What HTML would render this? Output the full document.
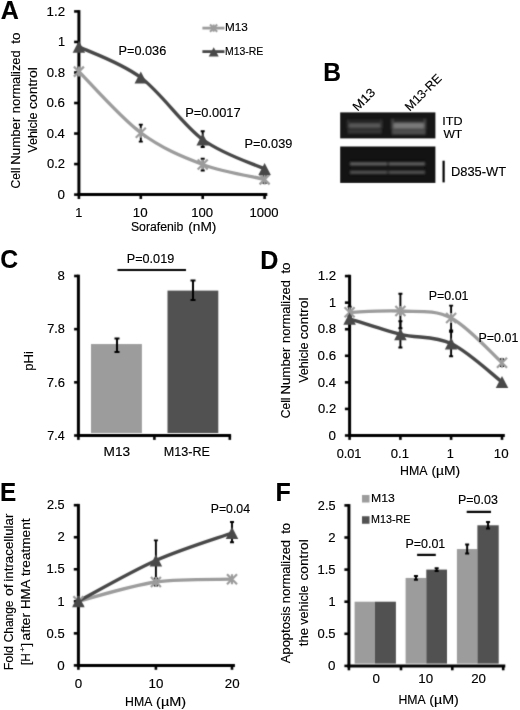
<!DOCTYPE html>
<html><head><meta charset="utf-8"><style>
html,body{margin:0;padding:0;background:#fff;}
svg{display:block;font-family:"Liberation Sans", sans-serif;filter:grayscale(1);}
text{stroke:#000;stroke-width:0.15px;}
</style></head><body>
<svg width="520" height="710" viewBox="0 0 520 710">
<defs><filter id="soft" x="0" y="0" width="520" height="710" filterUnits="userSpaceOnUse" color-interpolation-filters="sRGB"><feConvolveMatrix order="3" kernelMatrix="0.0192 0.1001 0.0192 0.1001 0.5228 0.1001 0.0192 0.1001 0.0192" edgeMode="duplicate"/></filter></defs>
<g filter="url(#soft)">
<rect width="520" height="710" fill="#fff"/>
<line x1="78.90" y1="10.12" x2="78.90" y2="196.10" stroke="#000" stroke-width="3.0" stroke-linecap="butt"/>
<line x1="74.10" y1="194.60" x2="78.90" y2="194.60" stroke="#000" stroke-width="2.6" stroke-linecap="butt"/>
<line x1="74.10" y1="164.07" x2="78.90" y2="164.07" stroke="#000" stroke-width="2.6" stroke-linecap="butt"/>
<line x1="74.10" y1="133.54" x2="78.90" y2="133.54" stroke="#000" stroke-width="2.6" stroke-linecap="butt"/>
<line x1="74.10" y1="103.01" x2="78.90" y2="103.01" stroke="#000" stroke-width="2.6" stroke-linecap="butt"/>
<line x1="74.10" y1="72.48" x2="78.90" y2="72.48" stroke="#000" stroke-width="2.6" stroke-linecap="butt"/>
<line x1="74.10" y1="41.95" x2="78.90" y2="41.95" stroke="#000" stroke-width="2.6" stroke-linecap="butt"/>
<line x1="74.10" y1="11.42" x2="78.90" y2="11.42" stroke="#000" stroke-width="2.6" stroke-linecap="butt"/>
<line x1="77.40" y1="194.60" x2="267.30" y2="194.60" stroke="#000" stroke-width="3.0" stroke-linecap="butt"/>
<line x1="78.90" y1="194.60" x2="78.90" y2="199.00" stroke="#000" stroke-width="2.6" stroke-linecap="butt"/>
<line x1="140.80" y1="194.60" x2="140.80" y2="199.00" stroke="#000" stroke-width="2.6" stroke-linecap="butt"/>
<line x1="202.70" y1="194.60" x2="202.70" y2="199.00" stroke="#000" stroke-width="2.6" stroke-linecap="butt"/>
<line x1="264.60" y1="194.60" x2="264.60" y2="199.00" stroke="#000" stroke-width="2.6" stroke-linecap="butt"/>
<line x1="202.40" y1="28.10" x2="224.50" y2="28.10" stroke="#9c9c9c" stroke-width="2.8" stroke-linecap="butt"/>
<path d="M210.00,24.50 L217.20,31.70 M217.20,24.50 L210.00,31.70 M213.60,24.50 L213.60,31.70" stroke="#9c9c9c" stroke-width="2.0" fill="none"/>
<line x1="202.40" y1="51.60" x2="224.50" y2="51.60" stroke="#484848" stroke-width="2.8" stroke-linecap="butt"/>
<path d="M213.70,47.30 L218.70,56.50 L208.70,56.50 Z" fill="#484848"/>
<path d="M78.90,71.60 C89.22,81.80 120.17,117.32 140.80,132.80 C161.43,148.28 182.07,156.73 202.70,164.50 C223.33,172.27 254.28,176.92 264.60,179.40" stroke="#9c9c9c" stroke-width="3.3" fill="none"/>
<path d="M78.90,46.70 C89.22,51.83 120.17,62.03 140.80,77.50 C161.43,92.97 182.07,124.25 202.70,139.50 C223.33,154.75 254.28,164.08 264.60,169.00" stroke="#484848" stroke-width="3.4" fill="none"/>
<path d="M140.80,124.60 L140.80,141.60 M138.80,124.60 L142.80,124.60 M138.80,141.60 L142.80,141.60" stroke="#000" stroke-width="1.9" fill="none"/>
<path d="M202.70,158.75 L202.70,170.50 M200.70,158.75 L204.70,158.75 M200.70,170.50 L204.70,170.50" stroke="#000" stroke-width="1.9" fill="none"/>
<path d="M264.60,176.00 L264.60,183.00 M262.60,176.00 L266.60,176.00 M262.60,183.00 L266.60,183.00" stroke="#000" stroke-width="1.9" fill="none"/>
<path d="M202.70,131.25 L202.70,147.00 M200.70,131.25 L204.70,131.25 M200.70,147.00 L204.70,147.00" stroke="#000" stroke-width="1.9" fill="none"/>
<path d="M73.90,66.60 L83.90,76.60 M83.90,66.60 L73.90,76.60 M78.90,66.60 L78.90,76.60" stroke="#9c9c9c" stroke-width="2.2" fill="none"/>
<path d="M135.80,127.80 L145.80,137.80 M145.80,127.80 L135.80,137.80 M140.80,127.80 L140.80,137.80" stroke="#9c9c9c" stroke-width="2.2" fill="none"/>
<path d="M197.70,159.50 L207.70,169.50 M207.70,159.50 L197.70,169.50 M202.70,159.50 L202.70,169.50" stroke="#9c9c9c" stroke-width="2.2" fill="none"/>
<path d="M259.60,174.40 L269.60,184.40 M269.60,174.40 L259.60,184.40 M264.60,174.40 L264.60,184.40" stroke="#9c9c9c" stroke-width="2.2" fill="none"/>
<path d="M78.90,40.70 L85.15,52.70 L72.65,52.70 Z" fill="#484848"/>
<path d="M140.80,71.50 L147.05,83.50 L134.55,83.50 Z" fill="#484848"/>
<path d="M202.70,133.50 L208.95,145.50 L196.45,145.50 Z" fill="#484848"/>
<path d="M264.60,163.00 L270.85,175.00 L258.35,175.00 Z" fill="#484848"/>
<defs><filter id="bl" x="-20%" y="-60%" width="140%" height="220%"><feGaussianBlur stdDeviation="1.2"/></filter><filter id="bl2" x="-20%" y="-200%" width="140%" height="500%"><feGaussianBlur stdDeviation="0.8"/></filter><clipPath id="g1"><rect x="340.2" y="112.4" width="95.2" height="26"/></clipPath><clipPath id="g2"><rect x="340.2" y="146.5" width="95.2" height="36.4"/></clipPath></defs>
<rect x="340.2" y="112.4" width="95.2" height="26" fill="#161616"/>
<rect x="340.2" y="146.5" width="95.2" height="36.4" fill="#131313"/>
<g clip-path="url(#g1)"><g filter="url(#bl)"><rect x="347.5" y="119" width="34.5" height="15" fill="#212121"/><rect x="348" y="123.4" width="33.5" height="4.4" fill="#5a5a5a"/><rect x="348" y="129.6" width="33.5" height="3.6" fill="#383838"/><rect x="347" y="120" width="2.2" height="8.5" fill="#363636"/><rect x="380.2" y="120" width="2.2" height="8.5" fill="#363636"/><rect x="391.5" y="118.5" width="34.5" height="16.5" fill="#262626"/><rect x="392" y="123" width="33.5" height="5.7" fill="#7a7a7a"/><rect x="392" y="129.7" width="33.5" height="4.8" fill="#505050"/><rect x="391.2" y="119" width="2.4" height="10.5" fill="#4a4a4a"/><rect x="423.8" y="119" width="2.4" height="10.5" fill="#4a4a4a"/></g></g>
<g clip-path="url(#g2)"><g filter="url(#bl2)"><rect x="350" y="160.5" width="75" height="6" fill="#1c1c1c"/><rect x="350" y="169.2" width="75" height="6" fill="#1c1c1c"/><rect x="350" y="163.1" width="37" height="1.7" fill="#777"/><rect x="389" y="163.1" width="36" height="1.7" fill="#777"/><rect x="350" y="171.5" width="37" height="1.7" fill="#666"/><rect x="389" y="171.5" width="36" height="1.7" fill="#666"/></g></g>
<line x1="443.60" y1="160.70" x2="443.60" y2="182.40" stroke="#000" stroke-width="2.2" stroke-linecap="butt"/>
<line x1="78.40" y1="274.69" x2="78.40" y2="437.00" stroke="#000" stroke-width="3.0" stroke-linecap="butt"/>
<line x1="74.10" y1="435.50" x2="78.40" y2="435.50" stroke="#000" stroke-width="2.6" stroke-linecap="butt"/>
<line x1="74.10" y1="382.33" x2="78.40" y2="382.33" stroke="#000" stroke-width="2.6" stroke-linecap="butt"/>
<line x1="74.10" y1="329.16" x2="78.40" y2="329.16" stroke="#000" stroke-width="2.6" stroke-linecap="butt"/>
<line x1="74.10" y1="275.99" x2="78.40" y2="275.99" stroke="#000" stroke-width="2.6" stroke-linecap="butt"/>
<line x1="76.90" y1="435.50" x2="231.10" y2="435.50" stroke="#000" stroke-width="3.0" stroke-linecap="butt"/>
<line x1="78.40" y1="435.50" x2="78.40" y2="439.90" stroke="#000" stroke-width="2.6" stroke-linecap="butt"/>
<line x1="154.40" y1="435.50" x2="154.40" y2="439.90" stroke="#000" stroke-width="2.6" stroke-linecap="butt"/>
<line x1="229.80" y1="435.50" x2="229.80" y2="439.90" stroke="#000" stroke-width="2.6" stroke-linecap="butt"/>
<rect x="91" y="344.05" width="50.9" height="88.95" fill="#9c9c9c"/>
<rect x="167.5" y="290.61" width="50.8" height="142.39" fill="#515151"/>
<path d="M117.00,338.60 L117.00,352.00 M114.50,338.60 L119.50,338.60 M114.50,352.00 L119.50,352.00" stroke="#000" stroke-width="2" fill="none"/>
<path d="M193.00,280.50 L193.00,300.00 M190.50,280.50 L195.50,280.50 M190.50,300.00 L195.50,300.00" stroke="#000" stroke-width="2" fill="none"/>
<line x1="117.50" y1="270.00" x2="186.00" y2="270.00" stroke="#000" stroke-width="2.2" stroke-linecap="butt"/>
<line x1="349.60" y1="274.78" x2="349.60" y2="437.00" stroke="#000" stroke-width="3.0" stroke-linecap="butt"/>
<line x1="344.90" y1="435.50" x2="349.60" y2="435.50" stroke="#000" stroke-width="2.6" stroke-linecap="butt"/>
<line x1="344.90" y1="408.93" x2="349.60" y2="408.93" stroke="#000" stroke-width="2.6" stroke-linecap="butt"/>
<line x1="344.90" y1="382.36" x2="349.60" y2="382.36" stroke="#000" stroke-width="2.6" stroke-linecap="butt"/>
<line x1="344.90" y1="355.79" x2="349.60" y2="355.79" stroke="#000" stroke-width="2.6" stroke-linecap="butt"/>
<line x1="344.90" y1="329.22" x2="349.60" y2="329.22" stroke="#000" stroke-width="2.6" stroke-linecap="butt"/>
<line x1="344.90" y1="302.65" x2="349.60" y2="302.65" stroke="#000" stroke-width="2.6" stroke-linecap="butt"/>
<line x1="344.90" y1="276.08" x2="349.60" y2="276.08" stroke="#000" stroke-width="2.6" stroke-linecap="butt"/>
<line x1="348.10" y1="435.50" x2="504.80" y2="435.50" stroke="#000" stroke-width="3.0" stroke-linecap="butt"/>
<line x1="349.60" y1="435.50" x2="349.60" y2="439.90" stroke="#000" stroke-width="2.6" stroke-linecap="butt"/>
<line x1="400.40" y1="435.50" x2="400.40" y2="439.90" stroke="#000" stroke-width="2.6" stroke-linecap="butt"/>
<line x1="451.10" y1="435.50" x2="451.10" y2="439.90" stroke="#000" stroke-width="2.6" stroke-linecap="butt"/>
<line x1="502.00" y1="435.50" x2="502.00" y2="439.90" stroke="#000" stroke-width="2.6" stroke-linecap="butt"/>
<path d="M349.60,312.30 C358.07,312.08 383.48,310.05 400.40,311.00 C417.32,311.95 434.17,309.38 451.10,318.00 C468.03,326.62 493.52,355.25 502.00,362.70" stroke="#9c9c9c" stroke-width="3.3" fill="none"/>
<path d="M349.60,318.80 C358.07,321.38 383.48,330.18 400.40,334.30 C417.32,338.42 434.17,335.55 451.10,343.50 C468.03,351.45 493.52,375.58 502.00,382.00" stroke="#484848" stroke-width="3.4" fill="none"/>
<path d="M400.40,293.70 L400.40,328.30 M398.40,293.70 L402.40,293.70 M398.40,328.30 L402.40,328.30" stroke="#000" stroke-width="1.9" fill="none"/>
<path d="M451.10,305.60 L451.10,330.40 M449.10,305.60 L453.10,305.60 M449.10,330.40 L453.10,330.40" stroke="#000" stroke-width="1.9" fill="none"/>
<path d="M349.60,306.70 L349.60,316.00 M347.60,306.70 L351.60,306.70 M347.60,316.00 L351.60,316.00" stroke="#000" stroke-width="1.9" fill="none"/>
<path d="M502.00,359.20 L502.00,366.00 M500.00,359.20 L504.00,359.20 M500.00,366.00 L504.00,366.00" stroke="#000" stroke-width="1.9" fill="none"/>
<path d="M400.40,321.30 L400.40,347.50 M398.40,321.30 L402.40,321.30 M398.40,347.50 L402.40,347.50" stroke="#000" stroke-width="1.9" fill="none"/>
<path d="M451.10,331.70 L451.10,356.20 M449.10,331.70 L453.10,331.70 M449.10,356.20 L453.10,356.20" stroke="#000" stroke-width="1.9" fill="none"/>
<path d="M344.60,307.30 L354.60,317.30 M354.60,307.30 L344.60,317.30 M349.60,307.30 L349.60,317.30" stroke="#9c9c9c" stroke-width="2.2" fill="none"/>
<path d="M395.40,306.00 L405.40,316.00 M405.40,306.00 L395.40,316.00 M400.40,306.00 L400.40,316.00" stroke="#9c9c9c" stroke-width="2.2" fill="none"/>
<path d="M446.10,313.00 L456.10,323.00 M456.10,313.00 L446.10,323.00 M451.10,313.00 L451.10,323.00" stroke="#9c9c9c" stroke-width="2.2" fill="none"/>
<path d="M497.00,357.70 L507.00,367.70 M507.00,357.70 L497.00,367.70 M502.00,357.70 L502.00,367.70" stroke="#9c9c9c" stroke-width="2.2" fill="none"/>
<path d="M349.60,312.80 L355.85,324.80 L343.35,324.80 Z" fill="#484848"/>
<path d="M400.40,328.30 L406.65,340.30 L394.15,340.30 Z" fill="#484848"/>
<path d="M451.10,337.50 L457.35,349.50 L444.85,349.50 Z" fill="#484848"/>
<path d="M502.00,376.00 L508.25,388.00 L495.75,388.00 Z" fill="#484848"/>
<line x1="78.40" y1="503.90" x2="78.40" y2="666.90" stroke="#000" stroke-width="3.0" stroke-linecap="butt"/>
<line x1="73.80" y1="665.40" x2="78.40" y2="665.40" stroke="#000" stroke-width="2.6" stroke-linecap="butt"/>
<line x1="73.80" y1="633.36" x2="78.40" y2="633.36" stroke="#000" stroke-width="2.6" stroke-linecap="butt"/>
<line x1="73.80" y1="601.32" x2="78.40" y2="601.32" stroke="#000" stroke-width="2.6" stroke-linecap="butt"/>
<line x1="73.80" y1="569.28" x2="78.40" y2="569.28" stroke="#000" stroke-width="2.6" stroke-linecap="butt"/>
<line x1="73.80" y1="537.24" x2="78.40" y2="537.24" stroke="#000" stroke-width="2.6" stroke-linecap="butt"/>
<line x1="73.80" y1="505.20" x2="78.40" y2="505.20" stroke="#000" stroke-width="2.6" stroke-linecap="butt"/>
<line x1="76.90" y1="665.40" x2="234.90" y2="665.40" stroke="#000" stroke-width="3.0" stroke-linecap="butt"/>
<line x1="78.40" y1="665.40" x2="78.40" y2="669.80" stroke="#000" stroke-width="2.6" stroke-linecap="butt"/>
<line x1="155.90" y1="665.40" x2="155.90" y2="669.80" stroke="#000" stroke-width="2.6" stroke-linecap="butt"/>
<line x1="232.00" y1="665.40" x2="232.00" y2="669.80" stroke="#000" stroke-width="2.6" stroke-linecap="butt"/>
<path d="M78.40,601.20 C91.32,598.00 130.30,585.67 155.90,582.00 C181.50,578.33 219.32,579.67 232.00,579.20" stroke="#9c9c9c" stroke-width="3.3" fill="none"/>
<path d="M78.40,601.20 C91.32,594.42 130.30,571.87 155.90,560.50 C181.50,549.13 219.32,537.58 232.00,533.00" stroke="#484848" stroke-width="3.4" fill="none"/>
<path d="M155.90,578.50 L155.90,585.50 M153.90,578.50 L157.90,578.50 M153.90,585.50 L157.90,585.50" stroke="#000" stroke-width="1.9" fill="none"/>
<path d="M155.90,540.40 L155.90,580.50 M153.90,540.40 L157.90,540.40 M153.90,580.50 L157.90,580.50" stroke="#000" stroke-width="1.9" fill="none"/>
<path d="M232.00,522.00 L232.00,542.20 M230.00,522.00 L234.00,522.00 M230.00,542.20 L234.00,542.20" stroke="#000" stroke-width="1.9" fill="none"/>
<path d="M73.40,596.20 L83.40,606.20 M83.40,596.20 L73.40,606.20 M78.40,596.20 L78.40,606.20" stroke="#9c9c9c" stroke-width="2.2" fill="none"/>
<path d="M150.90,577.00 L160.90,587.00 M160.90,577.00 L150.90,587.00 M155.90,577.00 L155.90,587.00" stroke="#9c9c9c" stroke-width="2.2" fill="none"/>
<path d="M227.00,574.20 L237.00,584.20 M237.00,574.20 L227.00,584.20 M232.00,574.20 L232.00,584.20" stroke="#9c9c9c" stroke-width="2.2" fill="none"/>
<path d="M78.40,595.20 L84.65,607.20 L72.15,607.20 Z" fill="#484848"/>
<path d="M155.90,554.50 L162.15,566.50 L149.65,566.50 Z" fill="#484848"/>
<path d="M232.00,527.00 L238.25,539.00 L225.75,539.00 Z" fill="#484848"/>
<line x1="348.90" y1="504.10" x2="348.90" y2="667.40" stroke="#000" stroke-width="3.0" stroke-linecap="butt"/>
<line x1="344.40" y1="665.90" x2="348.90" y2="665.90" stroke="#000" stroke-width="2.6" stroke-linecap="butt"/>
<line x1="344.40" y1="633.80" x2="348.90" y2="633.80" stroke="#000" stroke-width="2.6" stroke-linecap="butt"/>
<line x1="344.40" y1="601.70" x2="348.90" y2="601.70" stroke="#000" stroke-width="2.6" stroke-linecap="butt"/>
<line x1="344.40" y1="569.60" x2="348.90" y2="569.60" stroke="#000" stroke-width="2.6" stroke-linecap="butt"/>
<line x1="344.40" y1="537.50" x2="348.90" y2="537.50" stroke="#000" stroke-width="2.6" stroke-linecap="butt"/>
<line x1="344.40" y1="505.40" x2="348.90" y2="505.40" stroke="#000" stroke-width="2.6" stroke-linecap="butt"/>
<line x1="347.40" y1="665.90" x2="505.30" y2="665.90" stroke="#000" stroke-width="3.0" stroke-linecap="butt"/>
<line x1="348.90" y1="665.90" x2="348.90" y2="670.30" stroke="#000" stroke-width="2.6" stroke-linecap="butt"/>
<line x1="401.00" y1="665.90" x2="401.00" y2="670.30" stroke="#000" stroke-width="2.6" stroke-linecap="butt"/>
<line x1="452.30" y1="665.90" x2="452.30" y2="670.30" stroke="#000" stroke-width="2.6" stroke-linecap="butt"/>
<line x1="503.20" y1="665.90" x2="503.20" y2="670.30" stroke="#000" stroke-width="2.6" stroke-linecap="butt"/>
<rect x="354.6" y="601.70" width="20.40" height="61.90" fill="#9c9c9c"/>
<rect x="375.0" y="601.70" width="20.90" height="61.90" fill="#515151"/>
<rect x="405.6" y="577.95" width="20.70" height="85.65" fill="#9c9c9c"/>
<rect x="426.3" y="569.60" width="20.70" height="94.00" fill="#515151"/>
<path d="M415.95,576.02 L415.95,579.87 M413.95,576.02 L417.95,576.02 M413.95,579.87 L417.95,579.87" stroke="#000" stroke-width="2" fill="none"/>
<path d="M436.65,568.32 L436.65,570.88 M434.65,568.32 L438.65,568.32 M434.65,570.88 L438.65,570.88" stroke="#000" stroke-width="2" fill="none"/>
<rect x="456.9" y="549.06" width="20.50" height="114.54" fill="#9c9c9c"/>
<rect x="477.4" y="525.30" width="21.30" height="138.30" fill="#515151"/>
<path d="M467.15,544.56 L467.15,553.55 M465.15,544.56 L469.15,544.56 M465.15,553.55 L469.15,553.55" stroke="#000" stroke-width="2" fill="none"/>
<path d="M488.05,522.09 L488.05,528.51 M486.05,522.09 L490.05,522.09 M486.05,528.51 L490.05,528.51" stroke="#000" stroke-width="2" fill="none"/>
<line x1="417.10" y1="554.90" x2="435.80" y2="554.90" stroke="#000" stroke-width="2.2" stroke-linecap="butt"/>
<line x1="466.70" y1="511.90" x2="491.00" y2="511.90" stroke="#000" stroke-width="2.2" stroke-linecap="butt"/>
<rect x="362" y="495" width="7.5" height="7.5" fill="#9c9c9c"/>
<rect x="362" y="516.25" width="7.5" height="7.5" fill="#515151"/>
</g>
<g class="t">
<text x="0.78" y="19.00" font-size="25.6" font-weight="bold" textLength="18.08" lengthAdjust="spacingAndGlyphs" fill="#000">A</text>
<text x="323.25" y="81.10" font-size="25.6" font-weight="bold" textLength="17.76" lengthAdjust="spacingAndGlyphs" fill="#000">B</text>
<text x="0.14" y="268.40" font-size="25.6" font-weight="bold" textLength="17.84" lengthAdjust="spacingAndGlyphs" fill="#000">C</text>
<text x="260.22" y="268.80" font-size="25.6" font-weight="bold" textLength="18.13" lengthAdjust="spacingAndGlyphs" fill="#000">D</text>
<text x="0.08" y="500.50" font-size="25.6" font-weight="bold" textLength="16.17" lengthAdjust="spacingAndGlyphs" fill="#000">E</text>
<text x="275.53" y="500.50" font-size="25.6" font-weight="bold" textLength="15.29" lengthAdjust="spacingAndGlyphs" fill="#000">F</text>
<text x="57.48" y="198.80" font-size="12.0" textLength="7.45" lengthAdjust="spacingAndGlyphs" fill="#000">0</text>
<text x="46.99" y="168.27" font-size="12.0" textLength="18.06" lengthAdjust="spacingAndGlyphs" fill="#000">0.2</text>
<text x="46.69" y="137.74" font-size="12.0" textLength="18.09" lengthAdjust="spacingAndGlyphs" fill="#000">0.4</text>
<text x="46.48" y="107.21" font-size="12.0" textLength="18.50" lengthAdjust="spacingAndGlyphs" fill="#000">0.6</text>
<text x="46.69" y="76.68" font-size="12.0" textLength="18.29" lengthAdjust="spacingAndGlyphs" fill="#000">0.8</text>
<text x="57.93" y="46.15" font-size="12.0" textLength="7.09" lengthAdjust="spacingAndGlyphs" fill="#000">1</text>
<text x="46.59" y="15.62" font-size="12.0" textLength="18.48" lengthAdjust="spacingAndGlyphs" fill="#000">1.2</text>
<text x="75.18" y="217.30" font-size="12.0" textLength="7.09" lengthAdjust="spacingAndGlyphs" fill="#000">1</text>
<text x="132.83" y="217.30" font-size="12.0" textLength="14.84" lengthAdjust="spacingAndGlyphs" fill="#000">10</text>
<text x="191.20" y="217.30" font-size="12.0" textLength="21.91" lengthAdjust="spacingAndGlyphs" fill="#000">100</text>
<text x="249.50" y="217.30" font-size="12.0" textLength="29.11" lengthAdjust="spacingAndGlyphs" fill="#000">1000</text>
<text x="130.94" y="231.30" font-size="12.3" textLength="52.47" lengthAdjust="spacingAndGlyphs" fill="#000">Sorafenib</text><text x="188.25" y="231.30" font-size="12.3" textLength="28.20" lengthAdjust="spacingAndGlyphs" fill="#000">(nM)</text>
<g transform="rotate(-90)"><text x="-188.41" y="19.80" font-size="12.3" textLength="20.72" lengthAdjust="spacingAndGlyphs" fill="#000">Cell</text></g><g transform="rotate(-90)"><text x="-164.79" y="19.80" font-size="12.3" textLength="47.11" lengthAdjust="spacingAndGlyphs" fill="#000">Number</text></g><g transform="rotate(-90)"><text x="-113.15" y="19.80" font-size="12.3" textLength="62.78" lengthAdjust="spacingAndGlyphs" fill="#000">normalized</text></g><g transform="rotate(-90)"><text x="-43.80" y="19.80" font-size="12.3" textLength="11.16" lengthAdjust="spacingAndGlyphs" fill="#000">to</text></g>
<g transform="rotate(-90)"><text x="-152.65" y="37.40" font-size="12.3" textLength="40.20" lengthAdjust="spacingAndGlyphs" fill="#000">Vehicle</text></g><g transform="rotate(-90)"><text x="-109.09" y="37.40" font-size="12.3" textLength="41.82" lengthAdjust="spacingAndGlyphs" fill="#000">control</text></g>
<text x="118.56" y="55.00" font-size="12.4" textLength="47.70" lengthAdjust="spacingAndGlyphs" fill="#000">P=0.036</text>
<text x="185.19" y="116.75" font-size="12.4" textLength="55.45" lengthAdjust="spacingAndGlyphs" fill="#000">P=0.0017</text>
<text x="244.45" y="147.50" font-size="12.4" textLength="47.90" lengthAdjust="spacingAndGlyphs" fill="#000">P=0.039</text>
<text x="224.94" y="31.40" font-size="10.2" textLength="22.77" lengthAdjust="spacingAndGlyphs" fill="#000">M13</text>
<text x="225.04" y="55.10" font-size="10.2" textLength="38.31" lengthAdjust="spacingAndGlyphs" fill="#000">M13-RE</text>
<text x="442.34" y="125.20" font-size="10.8" textLength="20.26" lengthAdjust="spacingAndGlyphs" fill="#000">ITD</text>
<text x="443.45" y="137.50" font-size="10.8" textLength="18.83" lengthAdjust="spacingAndGlyphs" fill="#000">WT</text>
<text x="450.94" y="176.00" font-size="12.0" textLength="55.15" lengthAdjust="spacingAndGlyphs" fill="#000">D835-WT</text>
<g transform="translate(358.3,111.0) rotate(-45)"><text x="-1.10" y="0.00" font-size="12.2" textLength="26.20" lengthAdjust="spacingAndGlyphs" fill="#000">M13</text></g>
<g transform="translate(410.5,111.0) rotate(-45)"><text x="-1.03" y="0.00" font-size="12.2" textLength="46.07" lengthAdjust="spacingAndGlyphs" fill="#000">M13-RE</text></g>
<text x="47.36" y="439.70" font-size="12.0" textLength="17.30" lengthAdjust="spacingAndGlyphs" fill="#000">7.4</text>
<text x="46.83" y="386.53" font-size="12.0" textLength="18.04" lengthAdjust="spacingAndGlyphs" fill="#000">7.6</text>
<text x="47.15" y="333.36" font-size="12.0" textLength="17.71" lengthAdjust="spacingAndGlyphs" fill="#000">7.8</text>
<text x="57.53" y="280.19" font-size="12.0" textLength="7.35" lengthAdjust="spacingAndGlyphs" fill="#000">8</text>
<text x="126.76" y="262.80" font-size="12.4" textLength="47.44" lengthAdjust="spacingAndGlyphs" fill="#000">P=0.019</text>
<text x="103.58" y="456.20" font-size="12.3" textLength="26.62" lengthAdjust="spacingAndGlyphs" fill="#000">M13</text>
<text x="163.77" y="456.20" font-size="12.3" textLength="46.17" lengthAdjust="spacingAndGlyphs" fill="#000">M13-RE</text>
<g transform="rotate(-90)"><text x="-370.85" y="33.00" font-size="12.3" textLength="19.73" lengthAdjust="spacingAndGlyphs" fill="#000">pHi</text></g>
<text x="328.58" y="439.70" font-size="12.0" textLength="7.45" lengthAdjust="spacingAndGlyphs" fill="#000">0</text>
<text x="318.09" y="413.13" font-size="12.0" textLength="18.06" lengthAdjust="spacingAndGlyphs" fill="#000">0.2</text>
<text x="317.79" y="386.56" font-size="12.0" textLength="18.09" lengthAdjust="spacingAndGlyphs" fill="#000">0.4</text>
<text x="317.58" y="359.99" font-size="12.0" textLength="18.50" lengthAdjust="spacingAndGlyphs" fill="#000">0.6</text>
<text x="317.79" y="333.42" font-size="12.0" textLength="18.29" lengthAdjust="spacingAndGlyphs" fill="#000">0.8</text>
<text x="329.03" y="306.85" font-size="12.0" textLength="7.09" lengthAdjust="spacingAndGlyphs" fill="#000">1</text>
<text x="317.69" y="280.28" font-size="12.0" textLength="18.48" lengthAdjust="spacingAndGlyphs" fill="#000">1.2</text>
<text x="336.65" y="458.20" font-size="12.0" textLength="24.82" lengthAdjust="spacingAndGlyphs" fill="#000">0.01</text>
<text x="390.79" y="458.20" font-size="12.0" textLength="18.15" lengthAdjust="spacingAndGlyphs" fill="#000">0.1</text>
<text x="446.78" y="458.20" font-size="12.0" textLength="7.09" lengthAdjust="spacingAndGlyphs" fill="#000">1</text>
<text x="493.73" y="458.20" font-size="12.0" textLength="14.84" lengthAdjust="spacingAndGlyphs" fill="#000">10</text>
<text x="400.08" y="474.50" font-size="12.3" textLength="27.54" lengthAdjust="spacingAndGlyphs" fill="#000">HMA</text><text x="431.44" y="474.50" font-size="12.3" textLength="28.72" lengthAdjust="spacingAndGlyphs" fill="#000">(µM)</text>
<g transform="rotate(-90)"><text x="-418.21" y="290.20" font-size="12.3" textLength="20.72" lengthAdjust="spacingAndGlyphs" fill="#000">Cell</text></g><g transform="rotate(-90)"><text x="-394.59" y="290.20" font-size="12.3" textLength="47.11" lengthAdjust="spacingAndGlyphs" fill="#000">Number</text></g><g transform="rotate(-90)"><text x="-342.95" y="290.20" font-size="12.3" textLength="62.78" lengthAdjust="spacingAndGlyphs" fill="#000">normalized</text></g><g transform="rotate(-90)"><text x="-273.60" y="290.20" font-size="12.3" textLength="11.16" lengthAdjust="spacingAndGlyphs" fill="#000">to</text></g>
<g transform="rotate(-90)"><text x="-382.85" y="307.50" font-size="12.3" textLength="40.20" lengthAdjust="spacingAndGlyphs" fill="#000">Vehicle</text></g><g transform="rotate(-90)"><text x="-339.29" y="307.50" font-size="12.3" textLength="41.82" lengthAdjust="spacingAndGlyphs" fill="#000">control</text></g>
<text x="428.78" y="300.00" font-size="12.4" textLength="39.73" lengthAdjust="spacingAndGlyphs" fill="#000">P=0.01</text>
<text x="478.58" y="341.90" font-size="12.4" textLength="39.73" lengthAdjust="spacingAndGlyphs" fill="#000">P=0.01</text>
<text x="57.18" y="669.60" font-size="12.0" textLength="7.45" lengthAdjust="spacingAndGlyphs" fill="#000">0</text>
<text x="46.59" y="637.56" font-size="12.0" textLength="18.05" lengthAdjust="spacingAndGlyphs" fill="#000">0.5</text>
<text x="57.63" y="605.52" font-size="12.0" textLength="7.09" lengthAdjust="spacingAndGlyphs" fill="#000">1</text>
<text x="46.61" y="573.48" font-size="12.0" textLength="18.03" lengthAdjust="spacingAndGlyphs" fill="#000">1.5</text>
<text x="57.44" y="541.44" font-size="12.0" textLength="7.32" lengthAdjust="spacingAndGlyphs" fill="#000">2</text>
<text x="46.96" y="509.40" font-size="12.0" textLength="17.67" lengthAdjust="spacingAndGlyphs" fill="#000">2.5</text>
<text x="74.68" y="687.60" font-size="12.0" textLength="7.45" lengthAdjust="spacingAndGlyphs" fill="#000">0</text>
<text x="148.53" y="687.60" font-size="12.0" textLength="14.84" lengthAdjust="spacingAndGlyphs" fill="#000">10</text>
<text x="224.83" y="687.60" font-size="12.0" textLength="14.79" lengthAdjust="spacingAndGlyphs" fill="#000">20</text>
<text x="125.09" y="705.90" font-size="12.3" textLength="27.23" lengthAdjust="spacingAndGlyphs" fill="#000">HMA</text><text x="156.10" y="705.90" font-size="12.3" textLength="29.99" lengthAdjust="spacingAndGlyphs" fill="#000">(µM)</text>
<g transform="rotate(-90)"><text x="-670.22" y="13.30" font-size="12.3" textLength="24.12" lengthAdjust="spacingAndGlyphs" fill="#000">Fold</text></g><g transform="rotate(-90)"><text x="-642.31" y="13.30" font-size="12.3" textLength="41.73" lengthAdjust="spacingAndGlyphs" fill="#000">Change</text></g><g transform="rotate(-90)"><text x="-595.98" y="13.30" font-size="12.3" textLength="11.56" lengthAdjust="spacingAndGlyphs" fill="#000">of</text></g><g transform="rotate(-90)"><text x="-581.69" y="13.30" font-size="12.3" textLength="68.11" lengthAdjust="spacingAndGlyphs" fill="#000">intracellular</text></g>
<g transform="rotate(-90)"><text x="-665.04" y="30.20" font-size="12.3" textLength="11.80" lengthAdjust="spacingAndGlyphs" fill="#000">[H</text></g>
<g transform="rotate(-90)"><text x="-651.78" y="25.40" font-size="7.0" textLength="4.57" lengthAdjust="spacingAndGlyphs" fill="#000">+</text></g>
<g transform="rotate(-90)"><text x="-646.40" y="30.20" font-size="12.3" textLength="3.50" lengthAdjust="spacingAndGlyphs" fill="#000">]</text></g>
<g transform="rotate(-90)"><text x="-640.48" y="30.40" font-size="12.3" textLength="27.41" lengthAdjust="spacingAndGlyphs" fill="#000">after</text></g><g transform="rotate(-90)"><text x="-608.98" y="30.40" font-size="12.3" textLength="29.31" lengthAdjust="spacingAndGlyphs" fill="#000">HMA</text></g><g transform="rotate(-90)"><text x="-576.01" y="30.40" font-size="12.3" textLength="57.51" lengthAdjust="spacingAndGlyphs" fill="#000">treatment</text></g>
<text x="210.69" y="512.80" font-size="12.4" textLength="39.37" lengthAdjust="spacingAndGlyphs" fill="#000">P=0.04</text>
<text x="328.08" y="670.10" font-size="12.0" textLength="7.45" lengthAdjust="spacingAndGlyphs" fill="#000">0</text>
<text x="317.49" y="638.00" font-size="12.0" textLength="18.05" lengthAdjust="spacingAndGlyphs" fill="#000">0.5</text>
<text x="328.53" y="605.90" font-size="12.0" textLength="7.09" lengthAdjust="spacingAndGlyphs" fill="#000">1</text>
<text x="317.51" y="573.80" font-size="12.0" textLength="18.03" lengthAdjust="spacingAndGlyphs" fill="#000">1.5</text>
<text x="328.34" y="541.70" font-size="12.0" textLength="7.32" lengthAdjust="spacingAndGlyphs" fill="#000">2</text>
<text x="317.86" y="509.60" font-size="12.0" textLength="17.67" lengthAdjust="spacingAndGlyphs" fill="#000">2.5</text>
<text x="405.48" y="547.60" font-size="12.4" textLength="39.83" lengthAdjust="spacingAndGlyphs" fill="#000">P=0.01</text>
<text x="457.98" y="504.40" font-size="12.4" textLength="39.87" lengthAdjust="spacingAndGlyphs" fill="#000">P=0.03</text>
<text x="371.00" y="501.90" font-size="10.6" textLength="23.79" lengthAdjust="spacingAndGlyphs" fill="#000">M13</text>
<text x="371.12" y="523.20" font-size="10.6" textLength="39.34" lengthAdjust="spacingAndGlyphs" fill="#000">M13-RE</text>
<text x="372.48" y="682.60" font-size="12.0" textLength="7.45" lengthAdjust="spacingAndGlyphs" fill="#000">0</text>
<text x="418.23" y="682.60" font-size="12.0" textLength="14.84" lengthAdjust="spacingAndGlyphs" fill="#000">10</text>
<text x="471.23" y="682.60" font-size="12.0" textLength="14.79" lengthAdjust="spacingAndGlyphs" fill="#000">20</text>
<text x="398.39" y="704.30" font-size="12.3" textLength="27.23" lengthAdjust="spacingAndGlyphs" fill="#000">HMA</text><text x="429.21" y="704.30" font-size="12.3" textLength="29.67" lengthAdjust="spacingAndGlyphs" fill="#000">(µM)</text>
<g transform="rotate(-90)"><text x="-663.23" y="290.20" font-size="12.3" textLength="56.99" lengthAdjust="spacingAndGlyphs" fill="#000">Apoptosis</text></g><g transform="rotate(-90)"><text x="-603.26" y="290.20" font-size="12.3" textLength="63.29" lengthAdjust="spacingAndGlyphs" fill="#000">normalized</text></g><g transform="rotate(-90)"><text x="-533.80" y="290.20" font-size="12.3" textLength="10.84" lengthAdjust="spacingAndGlyphs" fill="#000">to</text></g>
<g transform="rotate(-90)"><text x="-646.20" y="307.50" font-size="12.3" textLength="18.39" lengthAdjust="spacingAndGlyphs" fill="#000">the</text></g><g transform="rotate(-90)"><text x="-624.84" y="307.50" font-size="12.3" textLength="39.51" lengthAdjust="spacingAndGlyphs" fill="#000">vehicle</text></g><g transform="rotate(-90)"><text x="-580.58" y="307.50" font-size="12.3" textLength="41.31" lengthAdjust="spacingAndGlyphs" fill="#000">control</text></g>
</g>
</svg>
</body></html>
